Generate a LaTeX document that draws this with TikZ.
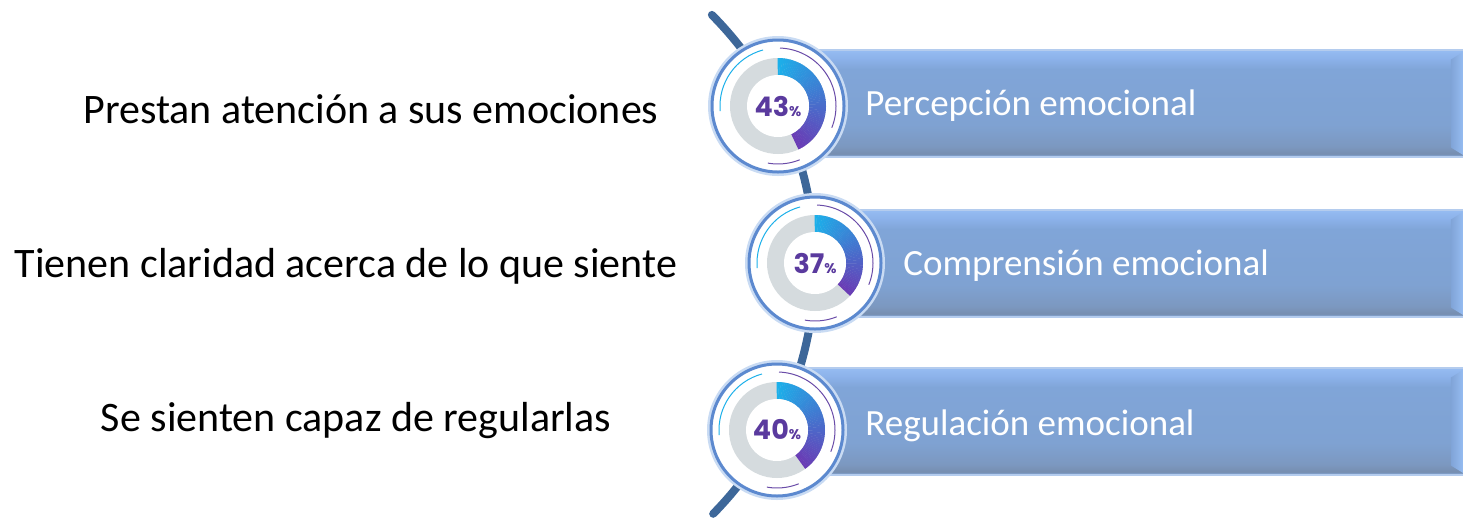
\documentclass[tikz,border=0pt]{standalone}
\usepackage{fontspec}
\setmainfont{Carlito}
\newfontfamily\pctfont{Poppins}
\usetikzlibrary{calc}
\definecolor{linecol}{HTML}{3D6799}
\definecolor{barEdge}{HTML}{B4CCEE}
\definecolor{barMidC}{HTML}{80A4D7}
\definecolor{barRight}{HTML}{97BDF3}
\definecolor{ringBlue}{HTML}{5C89CF}
\definecolor{ringGlow}{HTML}{C9DBF3}
\definecolor{pcyan}{HTML}{1CB0EA}
\definecolor{ppurp}{HTML}{6A3CB5}
\definecolor{dgrey}{HTML}{D5DBDE}
\definecolor{pcttext}{HTML}{5A3A9E}
\definecolor{thinpurp}{HTML}{6A4CA8}
\pgfdeclareverticalshading{barshade}{100bp}{%
  color(0bp)=(rgb,255:red,140;green,176;blue,230);
  color(25bp)=(rgb,255:red,140;green,176;blue,230);
  color(26.5bp)=(rgb,255:red,118;green,142;blue,176);
  color(30bp)=(rgb,255:red,124;green,152;blue,192);
  color(40bp)=(rgb,255:red,127;green,162;blue,210);
  color(66bp)=(rgb,255:red,128;green,165;blue,216);
  color(71bp)=(rgb,255:red,140;green,178;blue,234);
  color(75bp)=(rgb,255:red,150;green,188;blue,242);
  color(100bp)=(rgb,255:red,150;green,188;blue,242)}
\tikzset{
  bar/.style={rectangle, anchor=west, inner sep=0pt, minimum height=53.5pt,
    shading=barshade},
  badge/.style={circle, inner sep=0pt, minimum size=66pt, fill=white,
    draw=ringBlue, line width=1.5pt},
  leftlabel/.style={font=\fontsize{21}{25}\selectfont, text=black, inner sep=0pt},
  barlabel/.style={font=\fontsize{18.5}{22}\selectfont, text=white, anchor=west, inner sep=0pt},
  pct/.style={font=\pctfont\bfseries\fontsize{13.5}{15}\selectfont, text=pcttext, inner sep=0pt},
  spine/.style={draw=linecol, line width=4pt, line cap=round},
}
\newcommand\mydonut[2]{%
  \fill[dgrey] (#1) circle[radius=48];
  \foreach \i in {0,...,59}{%
    \pgfmathsetmacro\aa{90-\i*3.6*#2/60+0.4}%
    \pgfmathsetmacro\bb{90-(\i+1)*3.6*#2/60}%
    \pgfmathsetmacro\tt{100-\i*100/59}%
    \fill[pcyan!\tt!ppurp] ($(#1)+(\aa:48)$) arc (\aa:\bb:48) -- ($(#1)+(\bb:31)$) arc (\bb:\aa:31) -- cycle;
  }
  \fill[white] (#1) circle[radius=31];
}
\newcommand\mythin[1]{%
  \draw[pcyan, line width=0.5pt] ($(#1)+(105:58)$) arc (105:185:58);
  \draw[thinpurp, line width=0.5pt] ($(#1)+(88:58)$) arc (88:-22:58);
  \draw[thinpurp, line width=0.5pt] ($(#1)+(-68:58)$) arc (-68:-100:58);
}
\begin{document}
\begin{tikzpicture}[x=0.5pt,y=0.5pt]
\useasboundingbox (0,0) rectangle (1463,-521);

% bars
\node[bar, minimum width=331.5pt] (b1) at (800,-103.5) {};
\node[bar, minimum width=311.5pt] (b2) at (840,-263.5) {};
\node[bar, minimum width=331.5pt] (b3) at (800,-421.5) {};
\foreach \b in {b1,b2,b3}{
  \shade[left color=barMidC, right color=barRight]
    ($(\b.north east)+(-13,-10)$) -- ($(\b.north east)+(0,-2)$) -- ($(\b.south east)+(0,2)$) -- ($(\b.south east)+(-13,10)$) -- cycle;
  \draw[barEdge, line width=1pt] (\b.north west) -- (\b.north east);
  \draw[barEdge, line width=1pt] (\b.south west) -- (\b.south east);
}

% spine
\coordinate (sc) at (460,-265);
\draw[spine] ($(sc)+(44.8:355)$) arc (44.8:-44.5:355);

% badges
\coordinate (c1) at (778,-106);
\coordinate (c2) at (815,-263);
\coordinate (c3) at (777,-430);
\foreach \c in {c1,c2,c3}{
  \fill[ringGlow] (\c) circle[radius=70];
}
\node[badge] (k1) at (c1) {};
\node[badge] (k2) at (c2) {};
\node[badge] (k3) at (c3) {};
\mydonut{c1}{43}
\mydonut{c2}{37}
\mydonut{c3}{40}
\mythin{c1}
\mythin{c2}
\mythin{c3}
\node[pct] (p1) at (c1) {43{\fontsize{7}{8}\selectfont\%}};
\node[pct] (p2) at (c2) {37{\fontsize{7}{8}\selectfont\%}};
\node[pct] (p3) at (c3) {40{\fontsize{7}{8}\selectfont\%}};

% bar labels
\node[barlabel] (t1) at (865,-106) {Percepción emocional};
\node[barlabel] (t2) at (903,-266) {Comprensión emocional};
\node[barlabel] (t3) at (865,-426) {Regulación emocional};

% left labels
\node[leftlabel] (l1) at (371,-109) {Prestan atención a sus emociones};
\node[leftlabel] (l2) at (346,-266) {Tienen claridad acerca de lo que siente};
\node[leftlabel] (l3) at (356,-421) {Se sienten capaz de regularlas};
\end{tikzpicture}
\end{document}
